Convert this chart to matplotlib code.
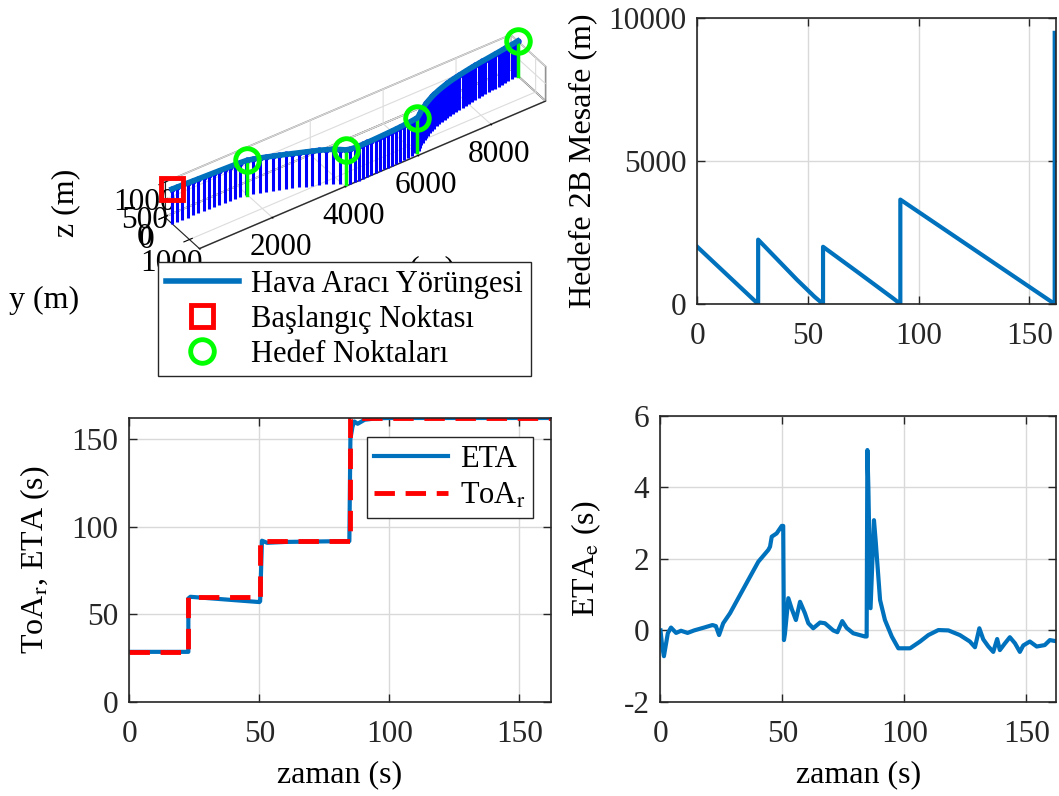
import numpy as np
import matplotlib.pyplot as plt
from matplotlib.lines import Line2D

plt.rcParams['font.family'] = ['Liberation Serif', 'DejaVu Serif']
plt.rcParams['mathtext.fontset'] = 'stix'
plt.rcParams['font.size'] = 22.5
plt.rcParams['axes.unicode_minus'] = False

mblue = '#0072BD'
TICK = 22.5
LAB = 23

# --- 3D trajectory (m) ---
wp_x = [0, 2000, 4050, 6050, 9500]      # start + hedef noktalari
wp_y = [300, 400, 1346, 1300, 280]
alt = 1000

traj_x = [0, 140, 280, 420, 560, 700, 840, 980, 1120, 1260, 1400, 1540, 1680, 1820, 1960,
          2000, 2140, 2280, 2420, 2560, 2700, 2840, 2980, 3120, 3260, 3400, 3540, 3680, 3820, 3950, 4050,
          4150, 4265, 4380, 4495, 4610, 4725, 4840, 4955, 5070, 5185, 5300, 5415, 5530, 5645, 5760, 5875, 5990,
          6050, 6110, 6190, 6270, 6350, 6430, 6510, 6595, 6680, 6765, 6855, 6945, 7035, 7130, 7225, 7320,
          7415, 7515, 7615, 7715, 7815, 7915, 8015, 8115, 8215, 8315, 8415, 8515, 8615, 8715, 8815, 8915,
          9015, 9115, 9215, 9315, 9410, 9500]
traj_y = [300, 306, 312, 318, 324, 330, 336, 342, 348, 354, 360, 366, 372, 380, 392,
          400, 440, 490, 545, 600, 657, 715, 775, 835, 895, 955, 1015, 1085, 1165, 1260, 1346,
          1380, 1395, 1400, 1400, 1398, 1395, 1391, 1387, 1382, 1377, 1371, 1364, 1356, 1347, 1336, 1323, 1308,
          1300, 1260, 1200, 1140, 1085, 1032, 982, 935, 890, 848, 808, 772, 738, 706, 676, 648,
          622, 598, 576, 555, 535, 516, 498, 481, 465, 450, 436, 422, 408, 394, 380, 366,
          352, 338, 324, 310, 296, 280]
traj_z = [alt] * len(traj_x)

# --- Hedefe 2B mesafe ---
dist_t = [0, 27.5, 27.5, 45, 53, 56.8, 56.8, 73.4, 88.4, 91.7, 91.7, 161.4, 161.4]
dist_v = [2000, 0, 2250, 850, 250, 0, 2000, 1060, 200, 0, 3650, 0, 9480]

# --- ETA / ToA_r ---
eta_t = [0, 22.7, 22.7, 23.5, 50.0, 50.3, 51.0, 53.0, 60.0, 84.6, 85.0, 85.8, 86.5, 87.8, 90.5, 95.0, 100.0, 162.0]
eta_v = [28.6, 28.6, 59.0, 60.0, 57.0, 57.5, 92.0, 90.8, 91.3, 91.8, 150.0, 157.0, 160.0, 158.7, 161.0, 161.8, 162.0, 162.0]
toa_t = [0, 22.7, 22.7, 50.3, 50.3, 84.8, 84.8, 162.0]
toa_v = [28.6, 28.6, 60.0, 60.0, 91.6, 91.6, 162.0, 162.0]

# --- ETA_e ---
etae_t = [0, 0.7, 1.4, 2.3, 3.0, 4.3, 6.4, 8.4, 11.1, 13.8, 17.9, 21.3, 22.7, 24.0, 25.7, 28.5,
          32.6, 36.7, 40.1, 44.2, 44.9, 45.6, 47.6, 49.7, 50.3, 50.6, 51.0, 52.4, 53.8, 55.5,
          57.2, 59.2, 60.6, 62.6, 65.4, 67.4, 70.8, 72.5, 74.5, 76.3, 79.0, 83.8, 84.5, 84.8,
          85.2, 86.1, 87.5, 88.2, 90.0, 92.0, 94.8, 97.5, 102.3, 106.4, 109.8, 113.9, 118.0,
          122.7, 126.8, 128.9, 130.7, 132.3, 134.4, 136.4, 138.0, 139.1, 141.2, 143.2, 145.3,
          147.3, 148.7, 151.4, 154.2, 157.5, 159.6, 162.0]
etae_v = [0, -0.45, -0.72, -0.36, -0.08, 0.08, -0.07, -0.01, -0.07, 0.0, 0.08, 0.15, 0.12, -0.13, 0.2, 0.48,
          0.99, 1.5, 1.92, 2.25, 2.34, 2.62, 2.71, 2.92, 2.92, -0.27, -0.1, 0.9, 0.6, 0.29,
          0.8, 0.48, 0.2, 0.06, 0.22, 0.2, 0.0, -0.05, 0.26, 0.07, -0.08, -0.17, -0.17, 5.04,
          4.0, 0.62, 3.08, 2.5, 0.85, 0.29, -0.17, -0.5, -0.5, -0.31, -0.13, 0.01, 0.0,
          -0.13, -0.31, -0.47, 0.06, -0.25, -0.45, -0.6, -0.24, -0.55, -0.36, -0.19, -0.36,
          -0.6, -0.42, -0.31, -0.45, -0.41, -0.27, -0.3]

fig = plt.figure(figsize=(10.59, 7.96), dpi=100)


def style2d(ax):
    ax.grid(True, color='#d9d9d9', lw=1)
    ax.set_axisbelow(True)
    ax.tick_params(direction='in', top=True, right=True, length=6, width=1,
                   colors='#262626', labelsize=TICK, pad=8)
    ax.tick_params(axis='x', pad=13)
    for s in ax.spines.values():
        s.set_color('#262626')
        s.set_linewidth(1.2)


# ---------------- 3D ----------------
ax1 = fig.add_axes([0.02, 0.555, 0.62, 0.52], projection='3d', proj_type='ortho')
ax1.computed_zorder = False
ax1.view_init(elev=38.5, azim=-124.4)
mk, st, bl = ax1.stem(traj_x, traj_y, traj_z, linefmt='b-', markerfmt='b.', basefmt=' ')
st.set_linewidth(2.2)
mk.set_markersize(7)
st.set_zorder(2)
mk.set_zorder(3)
bl.set_visible(False)
ax1.plot(traj_x, traj_y, traj_z, color=mblue, lw=4, zorder=4)
for x, y in zip(wp_x[1:], wp_y[1:]):
    ax1.plot([x, x], [y, y], [0, alt], color='#00FF00', lw=2.5, zorder=3)
ax1.plot(wp_x[1:], wp_y[1:], [alt] * 4, 'o', mfc='none', mec='#00FF00', ms=17, mew=3.5, zorder=6)
ax1.plot(wp_x[:1], wp_y[:1], [alt], 's', mfc='none', mec='#FF0000', ms=16, mew=3.5, zorder=6)
ax1.set_xlim(0, 9500)
ax1.set_ylim(1400, 0)
ax1.set_zlim(0, 1000)
ax1.set_box_aspect((9500, 1400, 1000), zoom=1.0)
ax1.set_xticks([0, 2000, 4000, 6000, 8000])
ax1.set_yticks([0, 1000])
ax1.set_zticks([0, 500, 1000])
ax1.tick_params(labelsize=TICK, pad=0)
ax1.tick_params(axis='x', pad=28)
for a in (ax1.xaxis, ax1.yaxis, ax1.zaxis):
    a.pane.fill = False
    a.pane.set_edgecolor('#262626')
    a.pane.set_linewidth(1.2)
    a.line.set_color('#262626')
    a._axinfo['grid']['color'] = '#dcdcdc'
    a._axinfo['grid']['linewidth'] = 0.8
# axis titles of the 3D box (placed like the original figure, x one sits behind the legend)
fig.text(420 / 1059, 1 - 270 / 796, 'x (m)', fontsize=LAB, ha='center', va='center')
fig.text(44 / 1059, 1 - 300 / 796, 'y (m)', fontsize=LAB, ha='center', va='center')
fig.text(66 / 1059, 1 - 203 / 796, 'z (m)', fontsize=LAB, ha='center', va='center', rotation=90)

handles = [Line2D([], [], color=mblue, lw=4),
           Line2D([], [], ls='none', marker='s', mfc='none', mec='#FF0000', ms=16, mew=3.5),
           Line2D([], [], ls='none', marker='o', mfc='none', mec='#00FF00', ms=17, mew=3.5)]
fig.legend(handles, ['Hava Aracı Yörüngesi', 'Başlangıç Noktası', 'Hedef Noktaları'],
           loc='upper left', bbox_to_anchor=(158 / 1059, 1 - 262 / 796), fontsize=22,
           frameon=True, fancybox=False, edgecolor='#262626', framealpha=1, borderaxespad=0,
           handlelength=2.4, borderpad=0.25, labelspacing=0.2, handletextpad=0.4)

# ---------------- top-right ----------------
ax2 = fig.add_axes([0.6584, 0.6181, 0.3388, 0.3593])
ax2.plot(dist_t, dist_v, color=mblue, lw=3)
ax2.set_xlim(0, 162)
ax2.set_ylim(0, 10000)
ax2.set_xticks([0, 50, 100, 150])
ax2.set_yticks([0, 5000, 10000])
ax2.set_ylabel('Hedefe 2B Mesafe (m)', fontsize=LAB, labelpad=7)
style2d(ax2)

# ---------------- bottom-left ----------------
ax3 = fig.add_axes([0.1221, 0.1181, 0.3979, 0.3568])
ax3.plot(eta_t, eta_v, color=mblue, lw=3, label='ETA')
ax3.plot(toa_t, toa_v, color='#FF0000', lw=3.5, ls=(0, (4.2, 2.2)), label=r'ToA$_\mathrm{r}$')
ax3.set_xlim(0, 162)
ax3.set_ylim(0, 162)
ax3.set_xticks([0, 50, 100, 150])
ax3.set_yticks([0, 50, 100, 150])
ax3.set_xlabel('zaman (s)', fontsize=LAB, labelpad=8)
ax3.set_ylabel(r'ToA$_\mathrm{r}$, ETA (s)', fontsize=LAB, labelpad=14)
style2d(ax3)
ax3.legend(loc='upper right', bbox_to_anchor=(0.958, 0.933), fontsize=22, fancybox=False,
           edgecolor='#262626', framealpha=1, borderaxespad=0, handlelength=2.4, borderpad=0.25,
           labelspacing=0.25, handletextpad=0.4)

# ---------------- bottom-right ----------------
ax4 = fig.add_axes([0.6237, 0.1181, 0.3732, 0.3597])
ax4.plot(etae_t, etae_v, color=mblue, lw=3)
ax4.set_xlim(0, 162)
ax4.set_ylim(-2, 6)
ax4.set_xticks([0, 50, 100, 150])
ax4.set_yticks([-2, 0, 2, 4, 6])
ax4.set_xlabel('zaman (s)', fontsize=LAB, labelpad=8)
ax4.set_ylabel(r'ETA$_\mathrm{e}$ (s)', fontsize=LAB, labelpad=15)
style2d(ax4)

fig.savefig('out.png', dpi=100)
